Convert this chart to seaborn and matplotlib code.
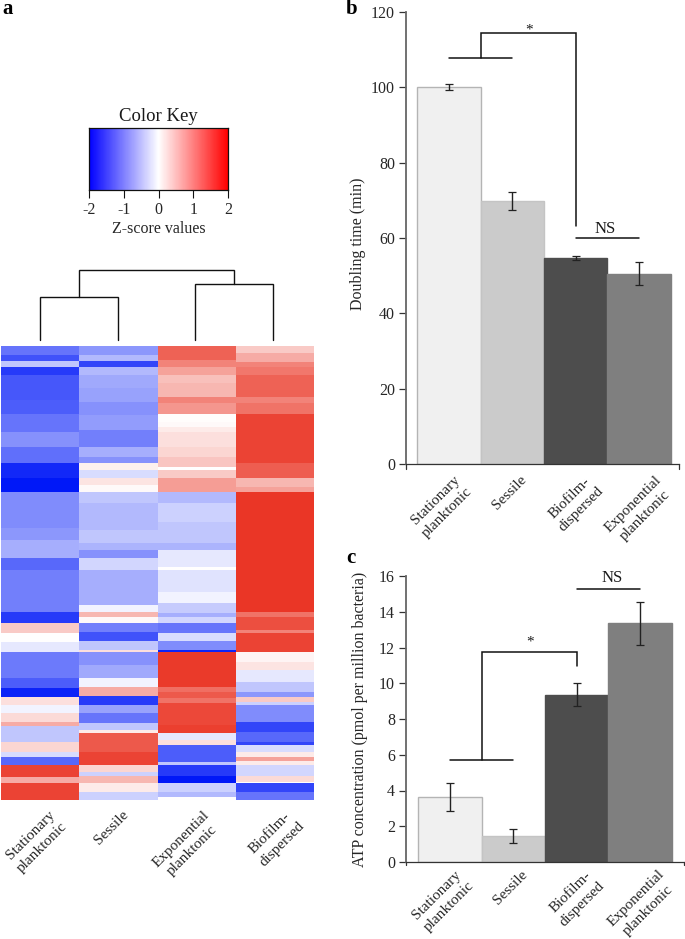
import numpy as np
import pandas as pd
import matplotlib
matplotlib.use("Agg")
import matplotlib.pyplot as plt
from matplotlib.colors import LinearSegmentedColormap
from matplotlib.transforms import ScaledTranslation
import seaborn as sns

# === 1. Data ===
# heatmap columns, as runs of rows: last row of each run + z-score of the run
stationary_ends = [9, 15, 21, 29, 54, 68, 86, 101, 117, 132, 146, 182, 194, 212, 224, 266, 277, 287, 296, 306,
                   332, 342, 351, 359, 367, 376, 380, 396, 406, 411, 419, 431, 437, 454]
stationary_z = [-1.2, -1.5, -0.5, -1.7, -1.45, -1.4, -1.2, -0.95, -1.25, -1.85, -2, -1.0, -0.9, -0.7, -1.3, -1.1, -1.7,
                0.5, 0, -0.2, -1.15, -1.4, -1.9, 0.3, -0.1, 0.35, 0.8, -0.5, 0.4, -0.3, -1.3, 1.8, 0.8, 1.8]
sessile_ends = [9, 15, 21, 29, 42, 56, 69, 84, 101, 111, 117, 124, 132, 139, 146, 157, 184, 197, 204, 212, 224, 259,
                266, 271, 277, 286, 295, 304, 306, 319, 332, 341, 350, 359, 367, 377, 384, 387, 406, 419, 426, 430,
                437, 446, 454]
sessile_z = [-0.9, -0.6, -1.6, -0.6, -0.75, -0.8, -0.95, -0.85, -1.1, -0.7, -0.95, 0.15, -0.3, 0.25, 0.05, -0.5, -0.6,
             -0.5, -0.65, -0.95, -0.35, -0.7, -0.1, 0.7, 0.05, -1.1, -1.5, -0.5, 0.3, -0.95, -0.75, -0.1, 0.8, -1.7,
             -0.8, -1.2, -0.5, 0.2, 1.6, 1.8, 0.4, -0.4, 0.7, 0.2, -0.4]
exponential_ends = [14, 21, 29, 37, 51, 57, 68, 76, 81, 86, 101, 111, 121, 124, 132, 146, 157, 176, 197, 204, 221, 224,
                    246, 257, 267, 271, 277, 287, 295, 304, 306, 341, 346, 352, 357, 379, 387, 394, 399, 416, 419,
                    430, 437, 446, 451, 454]
exponential_z = [1.5, 1.2, 0.9, 0.6, 0.7, 1.2, 1.0, 0.03, 0.05, 0.2, 0.3, 0.4, 0.55, 0, 0.5, 0.95, -0.6, -0.4, -0.5,
                 -0.65, -0.2, 0, -0.25, -0.1, -0.45, -0.7, -0.35, -1.2, -0.3, -1.0, -1.9, 1.9, 1.4, 1.6, 1.35, 1.75,
                 1.85, -0.2, 0.3, -1.4, -0.5, -1.7, -2, -0.4, -0.6, 0]
biofilm_ends = [7, 16, 21, 29, 51, 57, 68, 117, 132, 141, 146, 266, 271, 284, 287, 306, 316, 324, 336, 346, 351, 356,
                359, 376, 386, 396, 399, 406, 411, 415, 419, 430, 436, 437, 446, 454]
biofilm_z = [0.5, 0.8, 1.2, 1.3, 1.5, 1.2, 1.35, 1.8, 1.55, 0.7, 0.9, 1.93, 1.35, 1.7, 1.2, 1.8, 0.1, 0.25, -0.2, -0.5,
             -0.9, 0.5, -0.4, -1.0, -1.6, -1.3, -1.6, -0.3, 0.2, 0.9, 0.2, -0.35, 0.35, 0, -1.6, -1.2]

heat_labels = ["Stationary\nplanktonic", "Sessile", "Exponential\nplanktonic", "Biofilm-\ndispersed"]
key_ticks = [-2, -1, 0, 1, 2]

# dendrogram merge heights: left pair, right pair, root
merge_left = 43
merge_right = 56
merge_root = 70

bar_labels = ["Stationary\nplanktonic", "Sessile", "Biofilm-\ndispersed", "Exponential\nplanktonic"]
bar_colors = ["#f0f0f0", "#cbcbcb", "#4d4d4d", "#7f7f7f"]
edge_colors = ["#b4b4b4", "#c4c4c4", "#4d4d4d", "#7f7f7f"]

doubling = [100, 69.8, 54.6, 50.5]
doubling_err = [0.8, 2.3, 0.5, 3.0]
doubling_ticks = [0, 20, 40, 60, 80, 100, 120]

atp = [3.65, 1.45, 9.35, 13.35]
atp_err = [0.78, 0.37, 0.65, 1.22]
atp_ticks = [0, 2, 4, 6, 8, 10, 12, 14, 16]

# === 2. Style ===
sns.set_theme(style="white")
plt.rcParams["font.family"] = ["Liberation Serif", "DejaVu Serif"]
plt.rcParams["text.color"] = "#1a1a1a"

W, H = 685, 939
fig = plt.figure(figsize=(W / 100, H / 100), dpi=100)


def axes_px(left, top, right, bottom):
    return fig.add_axes([left / W, 1 - bottom / H, (right - left) / W, (bottom - top) / H])


def shift_labels(ax, offsets):
    # nudge the rotated tick labels sideways, in pixels
    for lab, dx in zip(ax.get_xticklabels(), offsets):
        lab.set_transform(lab.get_transform() + ScaledTranslation(dx / 100, 0, fig.dpi_scale_trans))


# === 3. Heatmap ===
def expand(ends, z):
    return np.repeat(z, np.diff([0] + ends))


heat_df = pd.DataFrame({
    heat_labels[0]: expand(stationary_ends, stationary_z),
    heat_labels[1]: expand(sessile_ends, sessile_z),
    heat_labels[2]: expand(exponential_ends, exponential_z),
    heat_labels[3]: expand(biofilm_ends, biofilm_z),
})

heat_cmap = LinearSegmentedColormap.from_list("heat", ["#0018f8", "#ffffff", "#e9301f"])
ax_heat = axes_px(1, 346, 314, 800)
sns.heatmap(heat_df, ax=ax_heat, cmap=heat_cmap, vmin=-2, vmax=2, cbar=False, yticklabels=False)
ax_heat.tick_params(axis="x", length=0, pad=5.8, labelsize=11)
plt.setp(ax_heat.get_xticklabels(), rotation=45, ha="center", va="top", multialignment="center", linespacing=1.35)
shift_labels(ax_heat, [-4, -7, -10, 1])

# === 4. Colour key ===
key_cmap = LinearSegmentedColormap.from_list("key", ["#0000ff", "#ffffff", "#ff0000"])
ax_key = axes_px(89, 128, 228, 190)
ramp = np.linspace(-2, 2, 256).reshape(1, -1)
sns.heatmap(ramp, ax=ax_key, cmap=key_cmap, vmin=-2, vmax=2, cbar=False, yticklabels=False, xticklabels=False)
ax_key.set_xticks([(t + 2) / 4 * 256 for t in key_ticks])
ax_key.set_xticklabels(key_ticks, rotation=0, fontsize=11.5)
ax_key.tick_params(axis="x", bottom=True, length=6, width=0.8, color="#111111", pad=3)
for s in ax_key.spines.values():
    s.set_visible(True)
    s.set_color("#111111")
    s.set_linewidth(0.9)
ax_key.set_xlabel("Z-score values", fontsize=11.5, labelpad=2)
ax_key.set_title("Color Key", fontsize=13.5, pad=5)

# === 5. Dendrogram ===
ax_den = axes_px(1, 270, 314, 340)
ax_den.set_xlim(0, 4)
ax_den.set_ylim(0, merge_root)
ax_den.axis("off")
line_kw = dict(color="#111111", lw=1.0, solid_joinstyle="miter", clip_on=False)
ax_den.plot([0.5, 0.5, 1.5, 1.5], [0, merge_left, merge_left, 0], **line_kw)
ax_den.plot([2.48, 2.48, 3.47, 3.47], [0, merge_right, merge_right, 0], **line_kw)
ax_den.plot([1, 1, 2.975, 2.975], [merge_left, merge_root, merge_root, merge_right], **line_kw)


# === 6. Bar panels ===
def bar_panel(ax, values, errs, ticks, ylabel, xlim, offsets, label_y, pad):
    df = pd.DataFrame({"group": bar_labels, "value": values})
    sns.barplot(data=df, x="group", y="value", hue="group", palette=bar_colors, legend=False, width=1.0,
                saturation=1, ax=ax)
    for patch, ec in zip(ax.patches, edge_colors):
        patch.set_edgecolor(ec)
        patch.set_linewidth(1.0)
    ax.errorbar(range(4), values, yerr=errs, fmt="none", ecolor="#222222", elinewidth=1.0, capsize=2.6, capthick=0.9)
    ax.set_xlim(*xlim)
    ax.set_ylim(ticks[0], ticks[-1])
    ax.set_yticks(ticks)
    ax.set_xticks(range(4))
    ax.set_xticklabels(bar_labels, rotation=45, ha="center", va="top", multialignment="center", linespacing=1.35)
    ax.tick_params(axis="x", length=0, pad=pad, labelsize=11)
    ax.tick_params(axis="y", left=True, length=5, width=0.9, color="#333333", labelsize=11.5, pad=3)
    sns.despine(ax=ax)
    ax.spines["left"].set_color("#666666")
    ax.spines["left"].set_linewidth(1.3)
    ax.spines["bottom"].set_color("#333333")
    ax.spines["bottom"].set_linewidth(0.9)
    # ticks at both ends of the x axis
    ax.plot([xlim[0], xlim[0]], [0, -0.012 * ticks[-1]], color="#333333", lw=0.9, clip_on=False)
    ax.plot([xlim[1], xlim[1]], [0, -0.012 * ticks[-1]], color="#333333", lw=0.9, clip_on=False)
    ax.set_xlabel("")
    ax.set_ylabel(ylabel, fontsize=11.5)
    ax.yaxis.set_label_coords(*label_y)
    shift_labels(ax, offsets)


br_kw = dict(color="#111111", lw=1.1, solid_joinstyle="miter")

ax_b = axes_px(406, 12, 679, 464)
bar_panel(ax_b, doubling, doubling_err, doubling_ticks, "Doubling time (min)", (-0.68, 3.63),
          [-8, -3, 0, 0], (-39.5 / 273, 0.487), 6.5)
ax_b.plot([0, 1], [107.7, 107.7], **br_kw)
ax_b.plot([0.5, 0.5, 2, 2], [107.7, 114.5, 114.5, 63.3], **br_kw)
ax_b.plot([2, 3], [60, 60], **br_kw)
ax_b.text(1.27, 115.3, "*", ha="center", va="center", fontsize=11)
ax_b.text(2.47, 62.5, "NS", ha="center", va="center", fontsize=12)

ax_c = axes_px(406, 576, 684, 862)
bar_panel(ax_c, atp, atp_err, atp_ticks, "ATP concentration (pmol per million bacteria)", (-0.69, 3.69),
          [-7, -3, 0, 2], (-38 / 278, 0.497), 4)
ax_c.plot([0, 1], [5.7, 5.7], **br_kw)
ax_c.plot([0.5, 0.5, 2, 2], [5.7, 11.75, 11.75, 10.95], **br_kw)
ax_c.plot([2, 3], [15.27, 15.27], **br_kw)
ax_c.text(1.27, 12.3, "*", ha="center", va="center", fontsize=11)
ax_c.text(2.55, 15.9, "NS", ha="center", va="center", fontsize=12)

# === 7. Panel letters ===
for letter, x, y in [("a", 2, 9), ("b", 346, 9), ("c", 346, 558)]:
    fig.text(x / W, 1 - y / H, letter, fontsize=15, fontweight="bold", ha="left", va="center", color="black")

fig.savefig("out.png", dpi=100)
